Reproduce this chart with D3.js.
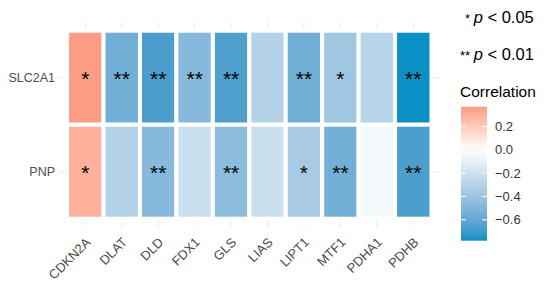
<!DOCTYPE html>
<html>
<head>
<meta charset="utf-8">
<script src="https://cdn.jsdelivr.net/npm/d3@7"></script>
<style>
  body { margin: 0; background: #fff; }
  text { font-family: "Liberation Sans", Arial, sans-serif; }
</style>
</head>
<body>
<div id="chart-area"></div>
<script>
// genes along x, two rows on y
var genes = ["CDKN2A", "DLAT", "DLD", "FDX1", "GLS", "LIAS", "LIPT1", "MTF1", "PDHA1", "PDHB"];
var rows = ["SLC2A1", "PNP"];

var slc2a1Cor = [0.37, -0.55, -0.67, -0.48, -0.66, -0.30, -0.55, -0.38, -0.29, -0.78];
var pnpCor    = [0.30, -0.30, -0.48, -0.21, -0.46, -0.21, -0.35, -0.55, -0.05, -0.67];

// significance marks
var slc2a1Sig = ["*", "**", "**", "**", "**", "", "**", "*", "", "**"];
var pnpSig    = ["*", "", "**", "", "**", "", "*", "**", "", "**"];

var legendTicks = [0.2, 0.0, -0.2, -0.4, -0.6];

var width = 550, height = 290;

var cells = [];
genes.forEach(function(g, i) {
    cells.push({gene: g, row: "SLC2A1", r: slc2a1Cor[i], sig: slc2a1Sig[i]});
    cells.push({gene: g, row: "PNP", r: pnpCor[i], sig: pnpSig[i]});
});

var svg = d3.select("#chart-area").append("svg")
    .attr("width", width)
    .attr("height", height);

var x = d3.scaleBand().domain(genes).range([67.1, 431.5]);
var y = d3.scaleBand().domain(rows).range([30.7, 218.7]);

var minR = d3.min(cells, function(d) { return d.r; }),
    maxR = d3.max(cells, function(d) { return d.r; });

var color = d3.scaleLinear()
    .domain([minR, 0, maxR])
    .range(["#0b8fc4", "#ffffff", "#fc9c84"])
    .interpolate(d3.interpolateLab);

// grid lines peeking out around the tiles
var grid = svg.append("g");
grid.selectAll(".vgrid").data(genes).enter().append("line")
    .attr("x1", function(d) { return x(d) + x.bandwidth() / 2; })
    .attr("x2", function(d) { return x(d) + x.bandwidth() / 2; })
    .attr("y1", 22).attr("y2", 227)
    .style("stroke", "#ebebeb").style("stroke-width", 1);
grid.selectAll(".hgrid").data(rows).enter().append("line")
    .attr("y1", function(d) { return y(d) + y.bandwidth() / 2; })
    .attr("y2", function(d) { return y(d) + y.bandwidth() / 2; })
    .attr("x1", 59).attr("x2", 440)
    .style("stroke", "#ebebeb").style("stroke-width", 1);

// tiles
svg.selectAll(".tile").data(cells).enter().append("rect")
    .attr("class", "tile")
    .attr("x", function(d) { return x(d.gene); })
    .attr("y", function(d) { return y(d.row); })
    .attr("width", x.bandwidth())
    .attr("height", y.bandwidth())
    .style("fill", function(d) { return color(d.r); })
    .style("stroke", "#fff")
    .style("stroke-width", 4);

// stars
svg.selectAll(".sig").data(cells).enter().append("text")
    .attr("x", function(d) { return x(d.gene) + x.bandwidth() / 2; })
    .attr("y", function(d) { return y(d.row) + y.bandwidth() / 2 + 8.5; })
    .attr("text-anchor", "middle")
    .style("font-size", "21px")
    .style("fill", "#000")
    .text(function(d) { return d.sig; });

// y labels
svg.selectAll(".ylab").data(rows).enter().append("text")
    .attr("x", 55)
    .attr("y", function(d) { return y(d) + y.bandwidth() / 2 + 4.5; })
    .attr("text-anchor", "end")
    .style("font-size", "12.5px")
    .style("fill", "#4d4d4d")
    .text(function(d) { return d; });

// x labels, rotated 45
svg.selectAll(".xlab").data(genes).enter().append("text")
    .attr("text-anchor", "end")
    .attr("transform", function(d) {
        return "translate(" + (x(d) + x.bandwidth() / 2 + 6) + ",243)rotate(-45)";
    })
    .style("font-size", "13px")
    .style("fill", "#4d4d4d")
    .text(function(d) { return d; });

// p-value notes
var note1 = svg.append("text").attr("x", 465).attr("y", 23).style("font-size", "16.5px");
note1.append("tspan").style("font-size", "13px").text("* ");
note1.append("tspan").style("font-style", "italic").text("p");
note1.append("tspan").text(" < 0.05");
var note2 = svg.append("text").attr("x", 460).attr("y", 60).style("font-size", "16.5px");
note2.append("tspan").style("font-size", "13px").text("** ");
note2.append("tspan").style("font-style", "italic").text("p");
note2.append("tspan").text(" < 0.01");

// legend
svg.append("text")
    .attr("x", 460).attr("y", 97)
    .style("font-size", "15.5px")
    .text("Correlation");

var lx = 461, lw = 26;
var ly = d3.scaleLinear().domain([minR, maxR]).range([240.7, 106.7]);

var defs = svg.append("defs");
var grad = defs.append("linearGradient")
    .attr("id", "corGrad")
    .attr("x1", 0).attr("x2", 0).attr("y1", 1).attr("y2", 0);
d3.range(0, 1.0001, 0.05).forEach(function(t) {
    var v = minR + t * (maxR - minR);
    grad.append("stop").attr("offset", t).attr("stop-color", color(v));
});

svg.append("rect")
    .attr("x", lx).attr("y", ly(maxR))
    .attr("width", lw).attr("height", ly(minR) - ly(maxR))
    .style("fill", "url(#corGrad)");

var lt = svg.selectAll(".ltick").data(legendTicks).enter().append("g");
lt.append("line")
    .attr("x1", lx).attr("x2", lx + 5)
    .attr("y1", function(d) { return ly(d); }).attr("y2", function(d) { return ly(d); })
    .style("stroke", "#fff").style("stroke-width", 1);
lt.append("line")
    .attr("x1", lx + lw - 5).attr("x2", lx + lw)
    .attr("y1", function(d) { return ly(d); }).attr("y2", function(d) { return ly(d); })
    .style("stroke", "#fff").style("stroke-width", 1);
lt.append("text")
    .attr("x", 495)
    .attr("y", function(d) { return ly(d) + 4.5; })
    .style("font-size", "13px")
    .style("fill", "#333")
    .text(function(d) { return d3.format(".1f")(d).replace("-", "\u2212"); });
</script>
</body>
</html>
